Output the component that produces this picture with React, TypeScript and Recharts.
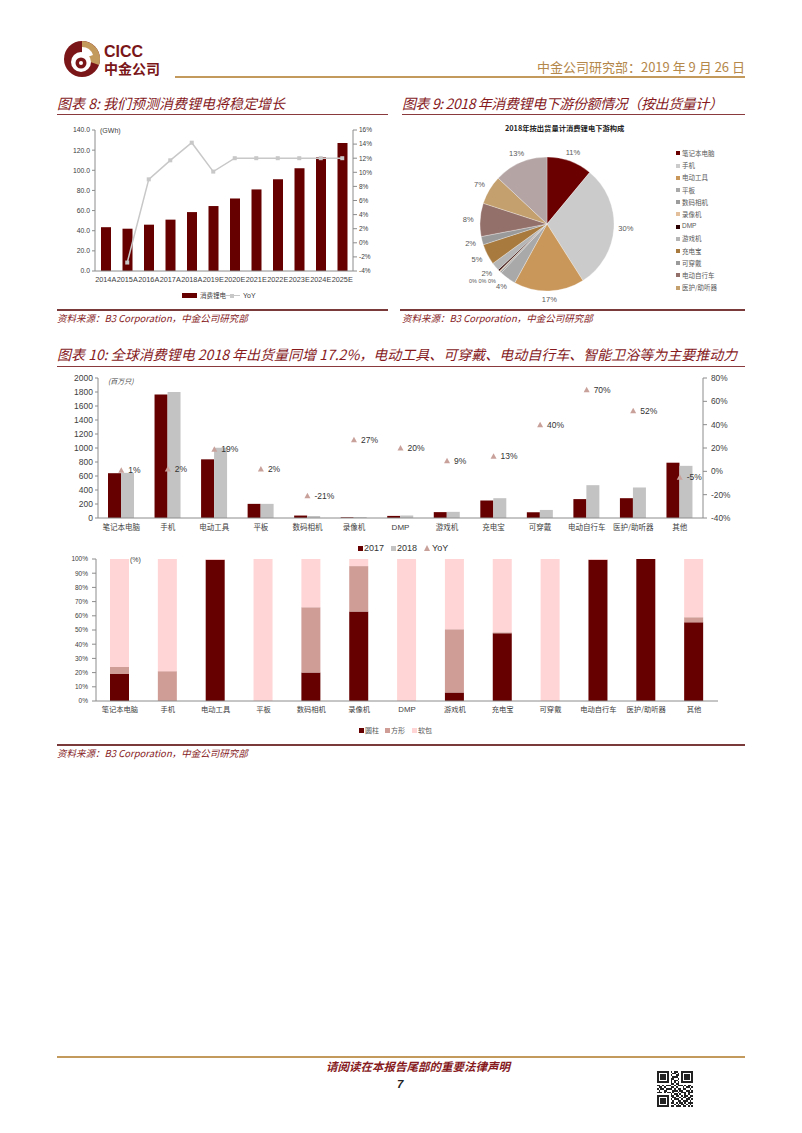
import React from 'react';
import { ComposedChart, Bar, Line, XAxis, YAxis, PieChart, Pie, Cell } from 'recharts';

const RED = '#660000';
const TITLE_RED = '#861a1d';
const GOLD = '#c49a5c';
const CJK = '"Noto Sans CJK SC", sans-serif';
const ARIAL = '"Liberation Sans", Arial, sans-serif';
const AXIS = '#8c8c8c';
const TICK = '#404040';

// 图表8: 消费锂电 (GWh) 与 YoY
const years = ['2014A', '2015A', '2016A', '2017A', '2018A', '2019E', '2020E', '2021E', '2022E', '2023E', '2024E', '2025E'];
const volume = [43.5, 42, 46, 51, 58.5, 64.5, 72, 81, 91, 102, 113, 127];
const volumeYoY = [null, -2.8, 9, 11.7, 14.2, 10.1, 12, 12, 12, 12, 12, 12];
const gwhTicks = [0, 20, 40, 60, 80, 100, 120, 140];
const yoyTicks8 = [-4, -2, 0, 2, 4, 6, 8, 10, 12, 14, 16];

// 图表9: 2018 年下游构成 (%)
const pieNames = ['笔记本电脑', '手机', '电动工具', '平板', '数码相机', '录像机', 'DMP', '游戏机', '充电宝', '可穿戴', '电动自行车', '医护/助听器', '其他'];
const pieShares = [11, 30, 17, 4, 0.4, 0.2, 0.4, 2, 5, 2, 8, 7, 13];
const pieColors = ['#6b0000', '#cbcbcb', '#c9975a', '#a9a9a9', '#9c9c9c', '#e3bf9c', '#2a0000', '#b5b5b5', '#a87a3e', '#9a9a9a', '#94706a', '#c4a06e', '#b4a4a4'];

// 图表10: 出货量 (百万只)、YoY、电池形态占比
const devices = ['笔记本电脑', '手机', '电动工具', '平板', '数码相机', '录像机', 'DMP', '游戏机', '充电宝', '可穿戴', '电动自行车', '医护/助听器', '其他'];
const ship2017 = [640, 1765, 838, 202, 35, 10, 30, 84, 250, 82, 270, 283, 790];
const ship2018 = [645, 1800, 1002, 202, 28, 13, 36, 88, 283, 115, 469, 436, 745];
const shipYoY = [1, 2, 19, 2, -21, 27, 20, 9, 13, 40, 70, 52, -5];
const shipTicks = [0, 200, 400, 600, 800, 1000, 1200, 1400, 1600, 1800, 2000];
const yoyTicks10 = [-40, -20, 0, 20, 40, 60, 80];
const cylinder = [19, 0, 99.5, 0, 20, 63, 0, 6, 47.7, 0, 99.5, 100, 55.4];
const prismatic = [5, 21, 0, 0, 46, 32, 0, 44.5, 0.7, 0, 0, 0, 3.6];
const pouch = [76, 79, 0.5, 100, 34, 5, 100, 49.5, 51.6, 100, 0.5, 0, 41];
const pctTicks = [0, 10, 20, 30, 40, 50, 60, 70, 80, 90, 100];

const chart8Data = years.map((y, i) => ({ year: y, volume: volume[i], yoy: volumeYoY[i] }));
const pieData = pieNames.map((n, i) => ({ name: n, value: pieShares[i] }));
const chart10Data = devices.map((d, i) => ({
  name: d, s2017: ship2017[i], s2018: ship2018[i], yoy: shipYoY[i],
  cyl: cylinder[i], pri: prismatic[i], pou: pouch[i],
}));

const Txt = ({ x, y, size, color = '#333', font = CJK, children, style = {} }: any) => (
  <div style={{ position: 'absolute', left: x, top: y - size / 2, fontSize: size, lineHeight: 1, color, fontFamily: font, whiteSpace: 'nowrap', ...style }}>
    {children}
  </div>
);

const HLine = ({ x1, x2, y, color, w = 1 }: any) => (
  <div style={{ position: 'absolute', left: x1, top: y - w / 2, width: x2 - x1, height: w, background: color }} />
);

const Title = ({ x, y, children, style = {} }: any) => (
  <Txt x={x} y={y} size={14} color={TITLE_RED} style={{ fontStyle: 'italic', ...style }}>{children}</Txt>
);

const Source = ({ x, y }: any) => (
  <Txt x={x} y={y} size={9.5} color={TITLE_RED} style={{ fontStyle: 'italic' }}>资料来源：B3 Corporation，中金公司研究部</Txt>
);

const catTick = (size: number) => (p: any) => {
  const v = p.payload.value;
  const latin = /^[A-Za-z0-9]+$/.test(v);
  return (
    <text x={p.x} y={p.y} dy="0.8em" textAnchor="middle" fontSize={latin ? size + 0.5 : size} fontFamily={latin ? ARIAL : CJK} fill={TICK}>
      {v}
    </text>
  );
};

// 很小的扇区(<1%)标签挤在一起，按顺序横向错开
const RAD = Math.PI / 180;
const renderPieLabel = (p: any) => {
  const idx = p.index;
  if (pieShares[idx] < 1) {
    const k = pieShares.slice(0, idx).filter((v) => v < 1).length;
    return (
      <text x={p.cx - 55 - 9.5 * k} y={p.cy + 56.5} textAnchor="middle" dominantBaseline="central" fontSize={5.5} fontFamily={ARIAL} fill="#595959">
        {Math.round(p.value)}%
      </text>
    );
  }
  const c = Math.cos(-p.midAngle * RAD);
  const s = Math.sin(-p.midAngle * RAD);
  const r = p.outerRadius + 8 + 4 * Math.abs(c);
  return (
    <text x={p.cx + r * c} y={p.cy + r * s} textAnchor="middle" dominantBaseline="central" fontSize={7.5} fontFamily={ARIAL} fill="#595959">
      {Math.round(p.value)}%
    </text>
  );
};

const Logo = () => (
  <svg width={40} height={40} style={{ position: 'absolute', left: 62, top: 39 }} viewBox="0 0 40 40">
    <circle cx={20} cy={20} r={18} fill="#7a1518" />
    <path d="M20,20 L20,2 A18,18 0 0,1 37,26 Z" fill={GOLD} />
    <circle cx={19} cy={23} r={10} fill="#fff" />
    <path d="M20,20 L20,8 A12,12 0 0,1 31,16 Z" fill="#fff" />
    <circle cx={19} cy={24} r={5.5} fill="#7a1518" />
    <circle cx={19} cy={24} r={2} fill="#fff" />
  </svg>
);

const qrRows = [
  '111111101011001111111',
  '100000100110101000001',
  '101110101001101011101',
  '101110100111001011101',
  '101110101100101011101',
  '100000101011001000001',
  '111111101010101111111',
  '000000001101100000000',
  '110101110010111010110',
  '011010001101000101101',
  '101101111010110110010',
  '010011000111011001101',
  '111010110100101110111',
  '000000001011010010100',
  '111111101101101011011',
  '100000100110010110110',
  '101110101011101001101',
  '101110100100110111010',
  '101110101101011010111',
  '100000100010101101010',
  '111111101101110110101',
];

const QR = () => (
  <svg width={36} height={36} viewBox="0 0 21 21" style={{ position: 'absolute', left: 657, top: 1071 }} shapeRendering="crispEdges">
    {qrRows.map((row, r) =>
      row.split('').map((b, c) => (b === '1' ? <rect key={`${r}-${c}`} x={c} y={r} width={1} height={1} fill="#222" /> : null))
    )}
  </svg>
);

const App = () => {
  return (
    <div style={{ position: 'absolute', left: 0, top: 0, width: 802, height: 1133, background: '#fff', overflow: 'hidden', fontFamily: CJK }}>
      {/* 页眉 */}
      <Logo />
      <Txt x={104} y={52} size={16} color="#7a1518" font={ARIAL} style={{ fontWeight: 700 }}>CICC</Txt>
      <Txt x={104} y={68} size={14} color="#7a1518" style={{ fontWeight: 700 }}>中金公司</Txt>
      <div style={{ position: 'absolute', right: 57, top: 60, fontSize: 13, lineHeight: 1, color: '#b4874a', whiteSpace: 'nowrap' }}>
        中金公司研究部：2019 年 9 月 26 日
      </div>
      <HLine x1={175} x2={745} y={77} color={GOLD} w={2} />

      {/* 图表8 */}
      <Title x={57} y={103}>图表 8: 我们预测消费锂电将稳定增长</Title>
      <HLine x1={57} x2={388} y={114} color="#8a3a3c" w={1} />
      <Txt x={100} y={130} size={7} font={ARIAL} color={TICK}>(GWh)</Txt>
      <div style={{ position: 'absolute', left: 55, top: 120 }}>
        <ComposedChart width={330} height={175} data={chart8Data} margin={{ top: 10, right: 12, left: 0, bottom: 0 }}>
          <XAxis dataKey="year" interval={0} tickLine={false} tickSize={3} height={24} stroke={AXIS} tick={catTick(6.8)} />
          <YAxis yAxisId="l" width={40} domain={[0, 140]} ticks={gwhTicks} interval={0} tickSize={3} stroke={AXIS}
            tick={{ fontSize: 6.8, fontFamily: ARIAL, fill: TICK }} tickFormatter={(v: number) => v.toFixed(1)} />
          <YAxis yAxisId="r" orientation="right" width={20} domain={[-4, 16]} ticks={yoyTicks8} interval={0} tickSize={4} stroke={AXIS}
            tick={{ fontSize: 6.5, fontFamily: ARIAL, fill: TICK }} tickFormatter={(v: number) => `${v}%`} />
          <Bar yAxisId="l" dataKey="volume" fill={RED} barSize={10} isAnimationActive={false} />
          <Line yAxisId="r" dataKey="yoy" stroke="#c8c8c8" strokeWidth={1.5} isAnimationActive={false} activeDot={false}
            dot={(p: any) => (p.cy == null || p.value == null ? <g key={p.index} /> :
              <rect key={p.index} x={p.cx - 2} y={p.cy - 2} width={4} height={4} fill="#c8c8c8" />)} />
        </ComposedChart>
      </div>
      <div style={{ position: 'absolute', left: 182, top: 293, width: 15, height: 5, background: RED }} />
      <Txt x={200} y={295.5} size={6.5} color={TICK}>消费锂电</Txt>
      <HLine x1={223} x2={240} y={295.5} color="#c8c8c8" w={1.5} />
      <div style={{ position: 'absolute', left: 229.5, top: 293.5, width: 4, height: 4, background: '#c8c8c8' }} />
      <Txt x={243} y={295.5} size={7} font={ARIAL} color={TICK}>YoY</Txt>
      <HLine x1={57} x2={388} y={310} color="#7a3a3a" w={1.5} />
      <Source x={57} y={319} />

      {/* 图表9 */}
      <Title x={402} y={103} style={{ letterSpacing: -0.4 }}>图表 9: 2018 年消费锂电下游份额情况（按出货量计）</Title>
      <HLine x1={402} x2={745} y={114} color="#8a3a3c" w={1} />
      <Txt x={505} y={129} size={7.3} color="#222" style={{ fontWeight: 700 }}>2018年按出货量计消费锂电下游构成</Txt>
      <div style={{ position: 'absolute', left: 400, top: 130 }}>
        <PieChart width={285} height={175}>
          <Pie data={pieData} dataKey="value" cx={142} cy={89} outerRadius={67} startAngle={90} endAngle={-270}
            stroke="#fff" strokeWidth={0.3} label={renderPieLabel} labelLine={false} isAnimationActive={false}>
            {pieData.map((d, i) => <Cell key={d.name} fill={pieColors[i]} />)}
          </Pie>
        </PieChart>
      </div>
      {pieNames.slice(0, 12).map((n, i) => (
        <React.Fragment key={n}>
          <div style={{ position: 'absolute', left: 676, top: 151.3 + i * 12.2, width: 4, height: 4, background: pieColors[i] }} />
          <Txt x={682} y={153.3 + i * 12.2} size={6.5} color="#595959" font={n === 'DMP' ? ARIAL : CJK}>{n}</Txt>
        </React.Fragment>
      ))}
      <HLine x1={400} x2={745} y={310} color="#7a3a3a" w={1.5} />
      <Source x={402} y={319} />

      {/* 图表10 */}
      <Title x={57} y={354}>图表 10: 全球消费锂电 2018 年出货量同增 17.2%，电动工具、可穿戴、电动自行车、智能卫浴等为主要推动力</Title>
      <HLine x1={57} x2={745} y={366} color="#8a3a3c" w={1} />
      <Txt x={108} y={381} size={7} color={TICK} style={{ fontStyle: 'italic' }}>(百万只)</Txt>
      <div style={{ position: 'absolute', left: 55, top: 370 }}>
        <ComposedChart width={690} height={175} data={chart10Data} margin={{ top: 8, right: 0, left: 0, bottom: 0 }} barGap={0}>
          <XAxis dataKey="name" interval={0} tickLine={false} tickSize={4} height={27} stroke={AXIS} tick={catTick(7.5)} />
          <YAxis yAxisId="l" width={43} domain={[0, 2000]} ticks={shipTicks} interval={0} tickSize={3} stroke={AXIS}
            tick={{ fontSize: 8.5, fontFamily: ARIAL, fill: TICK }} />
          <YAxis yAxisId="r" orientation="right" width={42} domain={[-40, 80]} ticks={yoyTicks10} interval={0} tickSize={4} tickMargin={4} stroke={AXIS}
            tick={{ fontSize: 8.3, fontFamily: ARIAL, fill: TICK }} tickFormatter={(v: number) => `${v}%`} />
          <Bar yAxisId="l" dataKey="s2017" fill={RED} barSize={13} isAnimationActive={false} />
          <Bar yAxisId="l" dataKey="s2018" fill="#c3c3c3" barSize={13} isAnimationActive={false} />
          <Line yAxisId="r" dataKey="yoy" stroke="none" isAnimationActive={false} activeDot={false}
            dot={(p: any) => (
              <g key={p.index}>
                <path d={`M${p.cx},${p.cy - 3} L${p.cx + 3},${p.cy + 2.5} L${p.cx - 3},${p.cy + 2.5} Z`} fill="#c9a19b" />
                <text x={p.cx + 7} y={p.cy} dominantBaseline="central" fontSize={8.5} fontFamily={ARIAL} fill="#333">
                  {p.payload.yoy}%
                </text>
              </g>
            )} />
        </ComposedChart>
      </div>
      {/* 上图图例 */}
      <div style={{ position: 'absolute', left: 358, top: 545.5, width: 5, height: 5, background: RED }} />
      <Txt x={364} y={548.5} size={9} font={ARIAL} color="#333">2017</Txt>
      <div style={{ position: 'absolute', left: 391, top: 545.5, width: 5, height: 5, background: '#c3c3c3' }} />
      <Txt x={397} y={548.5} size={9} font={ARIAL} color="#333">2018</Txt>
      <svg width={6} height={6} style={{ position: 'absolute', left: 424, top: 545 }}>
        <path d="M3,0 L6,6 L0,6 Z" fill="#c9a19b" />
      </svg>
      <Txt x={432} y={548.5} size={9} font={ARIAL} color="#333">YoY</Txt>

      <Txt x={130} y={559.5} size={7} font={ARIAL} color={TICK}>(%)</Txt>
      <div style={{ position: 'absolute', left: 55, top: 552 }}>
        <ComposedChart width={690} height={170} data={chart10Data} margin={{ top: 7, right: 27, left: 0, bottom: 0 }}>
          <XAxis dataKey="name" interval={0} tickLine={false} tickSize={3} height={21} stroke={AXIS} tick={catTick(7.3)} />
          <YAxis width={41} domain={[0, 100]} ticks={pctTicks} interval={0} tickSize={4} tickMargin={4} stroke={AXIS}
            tick={{ fontSize: 6.5, fontFamily: ARIAL, fill: TICK }} tickFormatter={(v: number) => `${v}%`} />
          <Bar dataKey="cyl" stackId="s" fill={RED} barSize={19} isAnimationActive={false} />
          <Bar dataKey="pri" stackId="s" fill="#d09c96" barSize={19} isAnimationActive={false} />
          <Bar dataKey="pou" stackId="s" fill="#ffd5d5" barSize={19} isAnimationActive={false} />
        </ComposedChart>
      </div>
      {/* 下图图例 */}
      <div style={{ position: 'absolute', left: 359, top: 728, width: 4.5, height: 4.5, background: RED }} />
      <Txt x={365} y={730.5} size={7} color="#595959">圆柱</Txt>
      <div style={{ position: 'absolute', left: 385, top: 728, width: 4.5, height: 4.5, background: '#d09c96' }} />
      <Txt x={391} y={730.5} size={7} color="#595959">方形</Txt>
      <div style={{ position: 'absolute', left: 412, top: 728, width: 4.5, height: 4.5, background: '#ffd5d5' }} />
      <Txt x={418} y={730.5} size={7} color="#595959">软包</Txt>
      <HLine x1={57} x2={745} y={745} color="#7a3a3a" w={1.5} />
      <Source x={57} y={754} />

      {/* 页脚 */}
      <HLine x1={57} x2={745} y={1057} color={GOLD} w={2} />
      <Txt x={326} y={1067} size={11.5} color={TITLE_RED} style={{ fontStyle: 'italic', fontWeight: 700 }}>请阅读在本报告尾部的重要法律声明</Txt>
      <Txt x={397} y={1085} size={11.5} color="#222" font={ARIAL} style={{ fontStyle: 'italic', fontWeight: 700 }}>7</Txt>
      <QR />
    </div>
  );
};

export default App;
